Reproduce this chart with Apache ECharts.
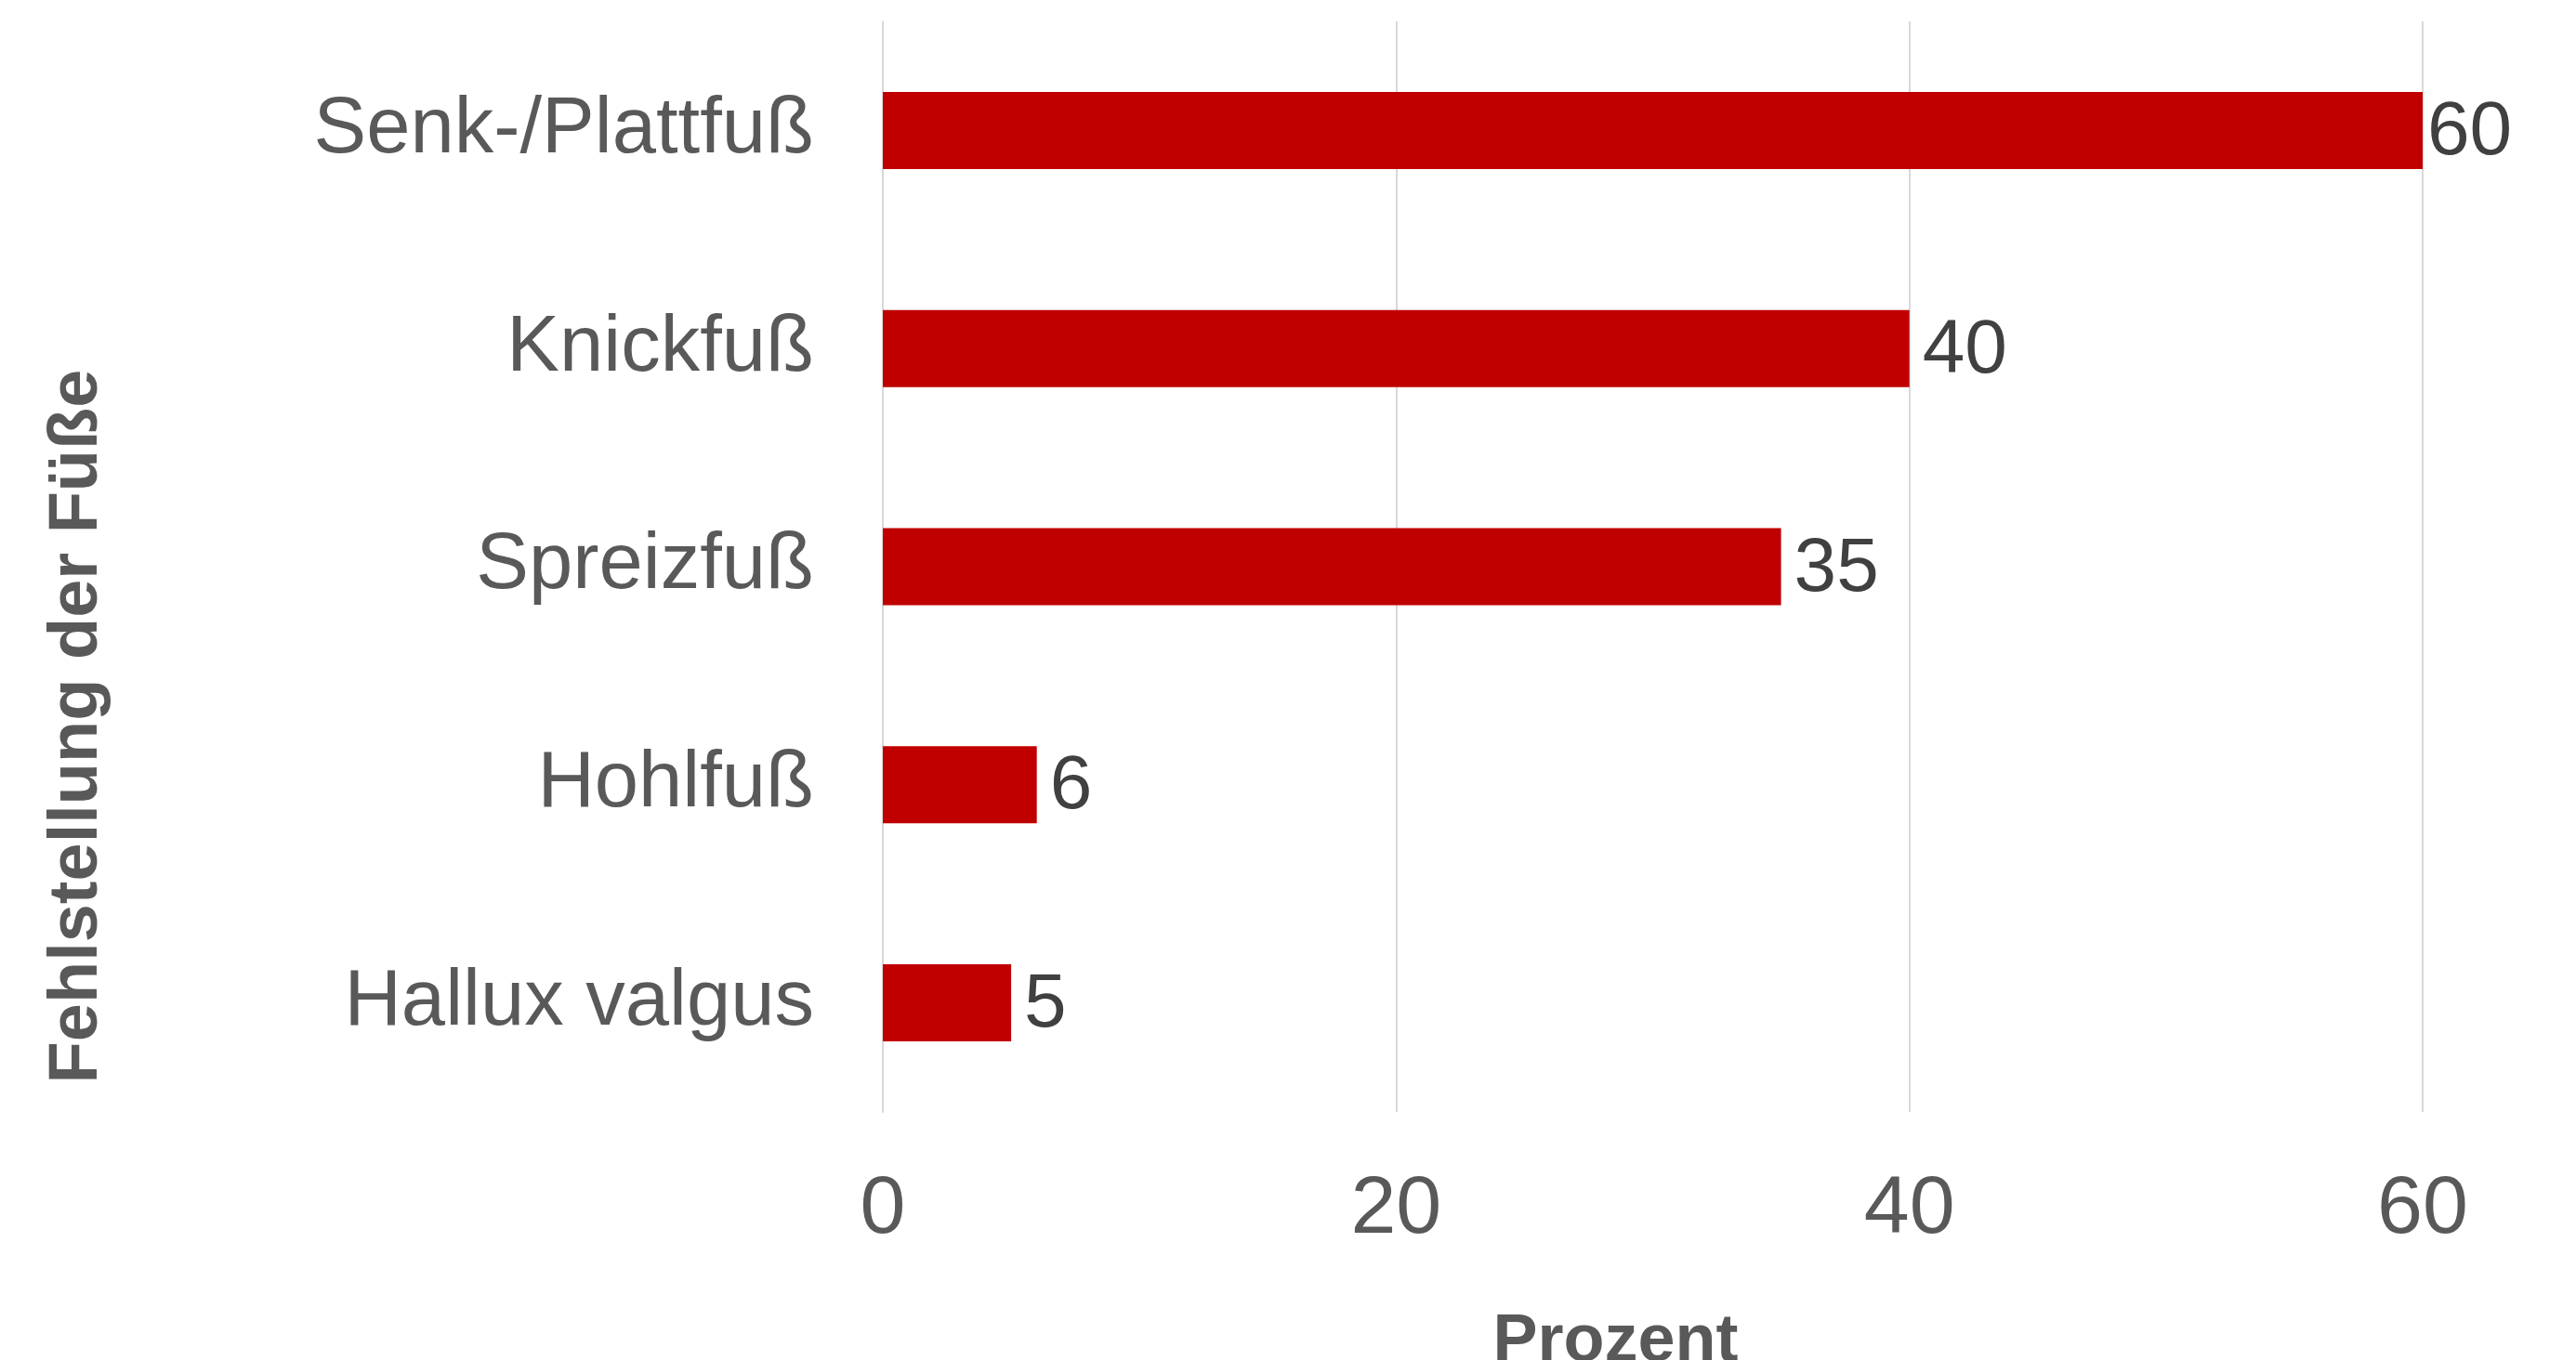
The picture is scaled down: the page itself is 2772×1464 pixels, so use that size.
<!DOCTYPE html>
<html>
<head>
<meta charset="utf-8">
<script src="https://cdn.jsdelivr.net/npm/echarts@6/dist/echarts.min.js"></script>
<style>html,body{margin:0;padding:0;background:#fff}#c{width:2772px;height:1464px}</style>
</head>
<body>
<div id="c"></div>
<script>
const categories = ['Senk-/Plattfuß', 'Knickfuß', 'Spreizfuß', 'Hohlfuß', 'Hallux valgus'];
const values = [60, 40, 35, 6, 5];
const xTicks = [0, 20, 40, 60];
const xTitle = 'Prozent';
const yTitle = 'Fehlstellung der Füße';

const chart = echarts.init(document.getElementById('c'), null, {renderer: 'canvas'});
const FONT = '"Liberation Sans", Arial, sans-serif';
const xMax = xTicks[xTicks.length - 1];
const barData = values.map(v => v >= xMax ? {value: v, label: {distance: 5}} : v);
chart.setOption({
  animation: false,
  backgroundColor: '#ffffff',
  grid: {left: 950, right: 165, top: 23, bottom: 267, containLabel: false, outerBoundsMode: 'none'},
  xAxis: {
    type: 'value', min: xTicks[0], max: xMax, interval: 20,
    name: xTitle, nameLocation: 'middle', nameGap: 212, nameMoveOverlap: false,
    nameTextStyle: {fontFamily: FONT, fontSize: 72, fontWeight: 'bold', color: '#595959', padding: [0, 80, 0, 0]},
    axisLine: {show: false}, axisTick: {show: false},
    axisLabel: {fontFamily: FONT, fontSize: 88, color: '#595959', margin: 62},
    splitLine: {show: true, lineStyle: {color: '#d9d9d9', width: 2}}
  },
  yAxis: {
    type: 'category', data: categories, inverse: true,
    name: yTitle, nameLocation: 'middle', nameGap: 829, nameMoveOverlap: false,
    nameTextStyle: {fontFamily: FONT, fontSize: 74, fontWeight: 'bold', color: '#595959', padding: [0, 344, 0, 0]},
    axisLine: {show: true, lineStyle: {color: '#d9d9d9', width: 2}},
    axisTick: {show: false},
    axisLabel: {fontFamily: FONT, fontSize: 85, color: '#595959', margin: 74}
  },
  series: [{
    type: 'bar', data: barData, barWidth: 83,
    itemStyle: {color: '#c00000'},
    label: {show: true, position: 'right', distance: 14, fontFamily: FONT, fontSize: 82, color: '#404040', offset: [0, 3]}
  }]
});
</script>
</body>
</html>
